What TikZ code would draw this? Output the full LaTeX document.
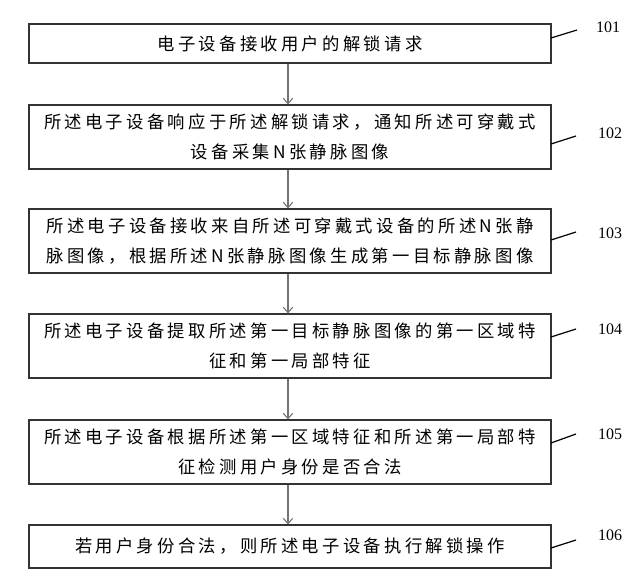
\documentclass[tikz,border=0pt]{standalone}
\usepackage{fontspec}
\usetikzlibrary{arrows.meta}
\newfontfamily\cjk[LetterSpace=19]{Noto Sans CJK SC}
\newfontfamily\numfont{Liberation Serif}
\begin{document}
\begin{tikzpicture}[x=0.75pt,y=-0.75pt,
  box/.style={draw=black!80,line width=0.9pt,minimum width={522*0.75pt},inner sep=0pt,align=center,
    font=\cjk\fontsize{13}{22.5}\selectfont},
  lead/.style={draw=black,line width=0.9pt},
  num/.style={font=\numfont\fontsize{12}{14}\selectfont,inner sep=0pt},
  arr/.style={draw=black!55,line width=0.8pt,-{Straight Barb[length=4pt,width=7pt]}}]
\useasboundingbox[fill=white] (0,0) rectangle (640,582);
\node[box,minimum height={39*0.75pt}] (b1) at (290,43.5) {电子设备接收用户的解锁请求};
\node[box,minimum height={64*0.75pt}] (b2) at (290,137) {所述电子设备响应于所述解锁请求，通知所述可穿戴式\\设备采集N张静脉图像};
\node[box,minimum height={64*0.75pt}] (b3) at (290,241) {所述电子设备接收来自所述可穿戴式设备的所述N张静\\脉图像，根据所述N张静脉图像生成第一目标静脉图像};
\node[box,minimum height={64*0.75pt}] (b4) at (290,346) {所述电子设备提取所述第一目标静脉图像的第一区域特\\征和第一局部特征};
\node[box,minimum height={64*0.75pt}] (b5) at (290,452) {所述电子设备根据所述第一区域特征和所述第一局部特\\征检测用户身份是否合法};
\node[box,minimum height={43*0.75pt}] (b6) at (290,546.5) {若用户身份合法，则所述电子设备执行解锁操作};
\coordinate (ax) at (288,0);
\foreach \a/\b in {b1/b2,b2/b3,b3/b4,b4/b5,b5/b6}
  \draw[arr] (\a.south -| ax) -- (\b.north -| ax);
\coordinate (s1) at (551,38);  \coordinate (t1) at (577,30);
\coordinate (s2) at (551,144); \coordinate (t2) at (576,136);
\coordinate (s3) at (551,240); \coordinate (t3) at (576,232);
\coordinate (s4) at (551,337); \coordinate (t4) at (576,329);
\coordinate (s5) at (551,443); \coordinate (t5) at (576,434);
\coordinate (s6) at (551,548); \coordinate (t6) at (576,540);
\node[num] (n1) at (608,27) {101};
\node[num] (n2) at (610,133) {102};
\node[num] (n3) at (610,233) {103};
\node[num] (n4) at (610,329) {104};
\node[num] (n5) at (610,434) {105};
\node[num] (n6) at (610,535) {106};
\foreach \i in {1,...,6} \draw[lead] (s\i) -- (t\i);
\end{tikzpicture}
\end{document}
